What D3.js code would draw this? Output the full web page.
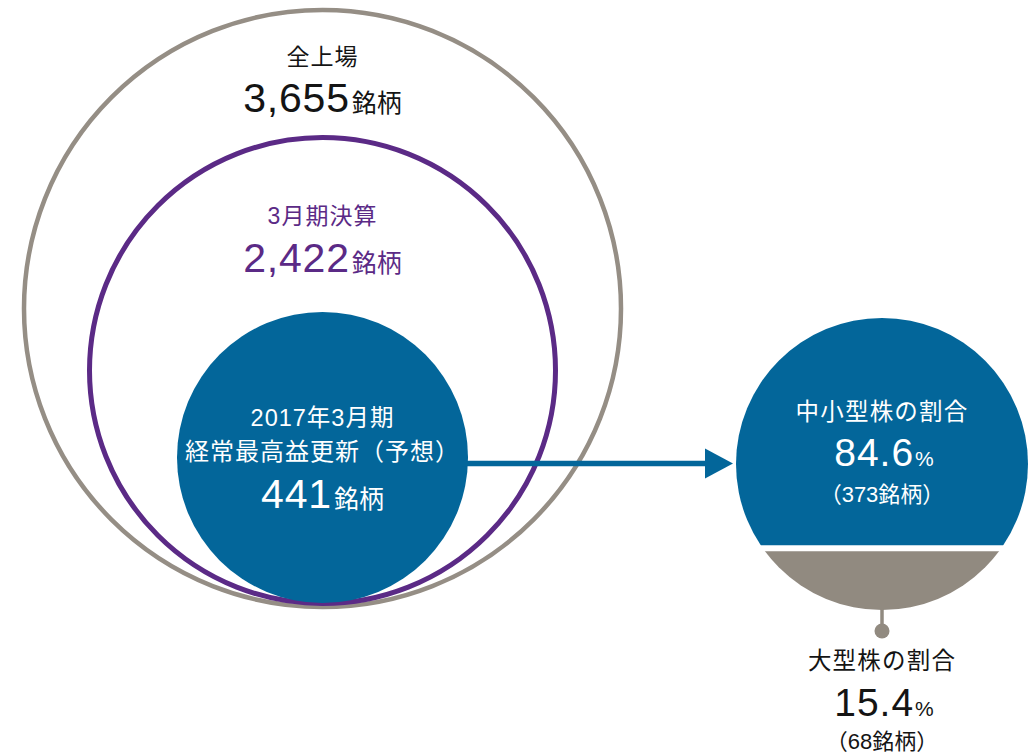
<!DOCTYPE html>
<html lang="ja">
<head>
<meta charset="utf-8">
<script src="https://cdn.jsdelivr.net/npm/d3@7"></script>
<style>
  html, body { margin: 0; padding: 0; background: #fff; }
  svg { display: block; }
  text { font-family: "Liberation Sans", Arial, "Noto Sans CJK JP", sans-serif; }
</style>
</head>
<body>
<svg id="chart" width="1036" height="754"></svg>
<script>
// ---- data ----
const circleNames = ["全上場", "3月期決算", "2017年3月期 経常最高益更新（予想）"];
const circleTitleLines = [["全上場"], ["3月期決算"], ["2017年3月期", "経常最高益更新（予想）"]];
const circleCounts = [3655, 2422, 441];
const splitNames = ["中小型株の割合", "大型株の割合"];
const splitCounts = [373, 68];
const splitShares = [84.6, 15.4];
const unitLabel = "銘柄";

// ---- layout ----
const W = 1036, H = 754;
const nest = {
  cx: 322.5,
  bottom: [607, 603.5, 603],          // circles sit on a shared bottom tangent
  radius: [298.5, 233, 145.5],
  titleY: [[65], [224], [426, 460]],
  titleSize: [[23], [23], [23.5, 24]],
  valueY: [112, 272, 508]
};
const side = { cx: 882, cy: 464, r: 146, gap: 6 };
const colors = {
  gray: "#958e85",
  grayFill: "#918a80",
  purple: "#5b2a86",
  blue: "#03669a",
  ink: "#141414",
  white: "#ffffff"
};

const svg = d3.select("#chart");
const fmtInt = d3.format(",");
const fmtPct = d3.format(".1f");

const rScale = d3.scaleOrdinal().domain(circleNames).range(nest.radius);
const bottomScale = d3.scaleOrdinal().domain(circleNames).range(nest.bottom);

const nested = circleNames.map((name, i) => ({
  name, lines: circleTitleLines[i], count: circleCounts[i], i
}));

// nested circles: outer ring, middle ring, filled inner disc
const ringStyle = [
  { fill: "none", stroke: colors.gray, sw: 4.5 },
  { fill: "none", stroke: colors.purple, sw: 5 },
  { fill: colors.blue, stroke: "none", sw: 0 }
];
svg.append("g").selectAll("circle")
  .data(nested)
  .join("circle")
  .attr("cx", nest.cx)
  .attr("cy", d => bottomScale(d.name) - rScale(d.name))
  .attr("r", d => rScale(d.name))
  .attr("fill", d => ringStyle[d.i].fill)
  .attr("stroke", d => ringStyle[d.i].stroke)
  .attr("stroke-width", d => ringStyle[d.i].sw);

// labels for nested circles
const textColor = [colors.ink, colors.purple, colors.white];
const labels = svg.append("g");
nested.forEach(d => {
  d.lines.forEach((line, k) => {
    labels.append("text")
      .attr("x", nest.cx)
      .attr("y", nest.titleY[d.i][k])
      .attr("text-anchor", "middle")
      .attr("fill", textColor[d.i])
      .attr("font-size", nest.titleSize[d.i][k])
      .attr("letter-spacing", 1)
      .text(line);
  });
  const v = labels.append("text")
    .attr("x", nest.cx)
    .attr("y", nest.valueY[d.i])
    .attr("text-anchor", "middle")
    .attr("fill", textColor[d.i]);
  v.append("tspan").attr("font-size", 41).attr("letter-spacing", 0.8).text(fmtInt(d.count));
  v.append("tspan").attr("font-size", 25).attr("dx", 2).text(unitLabel);
});

// share disc on the right: split by area into two segments
function chordDepth(fraction, r) {
  // depth h of a circular segment whose area equals fraction of the disc
  const target = 2 * Math.PI * fraction;
  let lo = 0, hi = 2 * Math.PI;
  for (let n = 0; n < 60; n++) {
    const mid = (lo + hi) / 2;
    if (mid - Math.sin(mid) < target) lo = mid; else hi = mid;
  }
  const theta = (lo + hi) / 2;
  return r * (1 - Math.cos(theta / 2));
}
const lowerShare = splitShares[1] / d3.sum(splitShares);
const splitY = side.cy + side.r - chordDepth(lowerShare, side.r);

const defs = svg.append("defs");
defs.append("clipPath").attr("id", "clip-upper")
  .append("rect").attr("x", 0).attr("y", 0).attr("width", W).attr("height", splitY - side.gap / 2);
defs.append("clipPath").attr("id", "clip-lower")
  .append("rect").attr("x", 0).attr("y", splitY + side.gap / 2).attr("width", W).attr("height", H);

const segs = [
  { name: splitNames[0], clip: "clip-upper", fill: colors.blue },
  { name: splitNames[1], clip: "clip-lower", fill: colors.grayFill }
];
svg.append("g").selectAll("circle")
  .data(segs)
  .join("circle")
  .attr("cx", side.cx).attr("cy", side.cy).attr("r", side.r)
  .attr("fill", d => d.fill)
  .attr("clip-path", d => `url(#${d.clip})`);

// pointer from the lower segment to its caption
const pinY = side.cy + side.r + 21;
svg.append("line")
  .attr("x1", side.cx).attr("x2", side.cx)
  .attr("y1", side.cy + side.r - 2).attr("y2", pinY)
  .attr("stroke", colors.grayFill).attr("stroke-width", 3.5);
svg.append("circle")
  .attr("cx", side.cx).attr("cy", pinY).attr("r", 7.5)
  .attr("fill", colors.grayFill);

// arrow from the inner disc to the share disc
const innerName = circleNames[2];
const arrowY = side.cy - 0.5;
const arrowStart = nest.cx + rScale(innerName) - 6;
const arrowTip = side.cx - side.r - 3;
const headLen = 28, headHalf = 15;
svg.append("line")
  .attr("x1", arrowStart).attr("x2", arrowTip - headLen + 2)
  .attr("y1", arrowY).attr("y2", arrowY)
  .attr("stroke", colors.blue).attr("stroke-width", 5.5);
svg.append("path")
  .attr("d", d3.line()([
    [arrowTip - headLen, arrowY - headHalf],
    [arrowTip, arrowY],
    [arrowTip - headLen, arrowY + headHalf]
  ]) + "Z")
  .attr("fill", colors.blue);

// share captions
const shareText = [
  { title: 420, pct: 466, cnt: 502, color: colors.white },
  { title: 669, pct: 716, cnt: 749, color: colors.ink }
];
splitNames.forEach((name, i) => {
  const s = shareText[i];
  const g = svg.append("g").attr("fill", s.color);
  g.append("text")
    .attr("x", side.cx).attr("y", s.title)
    .attr("text-anchor", "middle").attr("font-size", 23.5).attr("letter-spacing", 1.2)
    .text(name);
  const p = g.append("text")
    .attr("x", side.cx + 2).attr("y", s.pct)
    .attr("text-anchor", "middle");
  p.append("tspan").attr("font-size", 39).attr("letter-spacing", 1).text(fmtPct(splitShares[i]));
  p.append("tspan").attr("font-size", 21).attr("dx", 1).text("%");
  g.append("text")
    .attr("x", side.cx).attr("y", s.cnt)
    .attr("text-anchor", "middle").attr("font-size", 22)
    .text(`（${splitCounts[i]}${unitLabel}）`);
});
</script>
</body>
</html>
